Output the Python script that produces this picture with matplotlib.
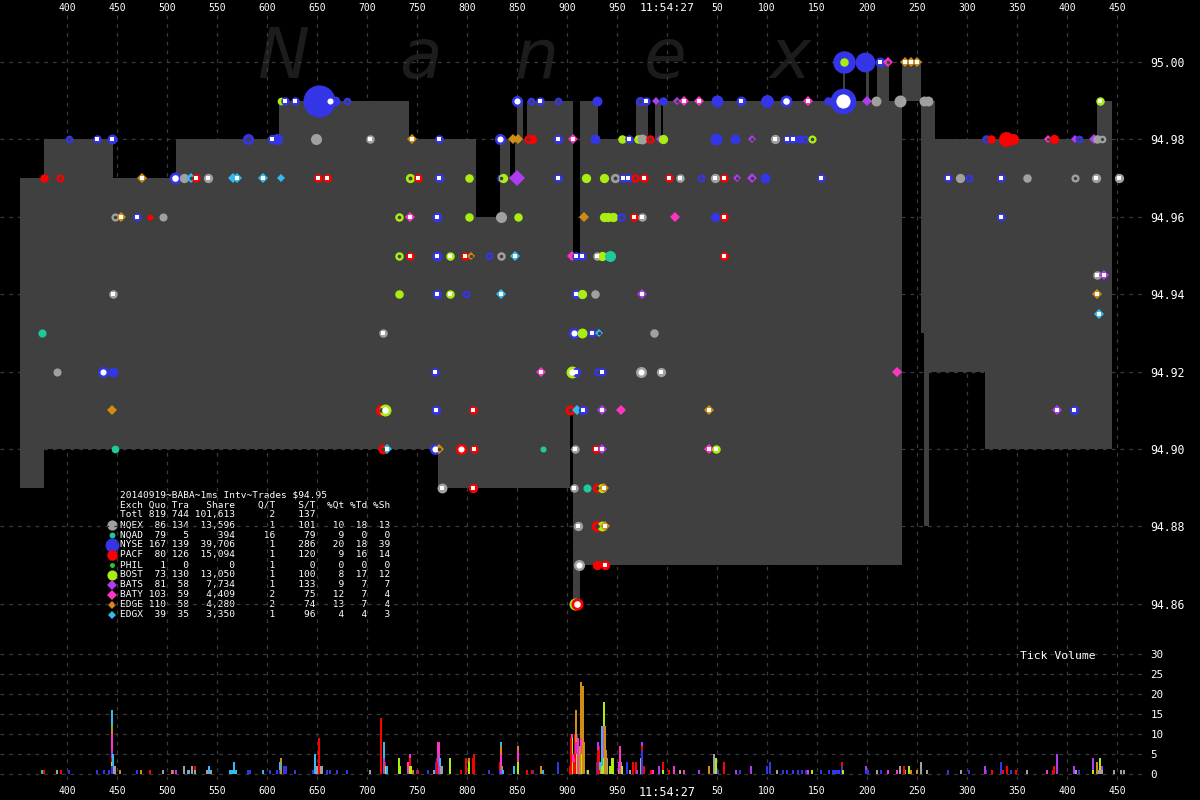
import numpy as np
import matplotlib
matplotlib.use("Agg")
import matplotlib.pyplot as plt

plt.rcParams['font.family'] = ['DejaVu Sans Mono']

# time axis: milliseconds after 11:54:26.000
tick_ms = list(range(400, 1451, 50))
price_ticks = [94.86, 94.88, 94.90, 94.92, 94.94, 94.96, 94.98, 95.00]
vol_ticks = [0, 5, 10, 15, 20, 25, 30]

# exchange codes, names and colours
ex_codes = ['Q', 'T', 'N', 'P', 'X', 'B', 'Z', 'Y', 'J', 'K']
ex_names = ['NQEX', 'NQAD', 'NYSE', 'PACF', 'PHIL', 'BOST', 'BATS', 'BATY', 'EDGE', 'EDGX']
ex_colors = {'Q': '#a0a0a0', 'T': '#1ec99a', 'N': '#3535e8', 'P': '#ff0000', 'X': '#22cc22',
             'B': '#aaee11', 'Z': '#b03cf0', 'Y': '#ff33c4', 'J': '#d08c14', 'K': '#33bbee'}
diamond_ex = set('ZYJK')

# summary table
quo = [86, 79, 167, 80, 1, 73, 81, 103, 110, 39]
tra = [134, 5, 139, 126, 0, 130, 58, 59, 58, 35]
share = [13596, 394, 39706, 15094, 0, 13050, 7734, 4409, 4280, 3350]
q_t = [1, 16, 1, 1, 1, 1, 1, 2, 2, 1]
s_t = [101, 79, 286, 120, 0, 100, 133, 75, 74, 96]
pct_qt = [10, 9, 20, 9, 0, 8, 9, 12, 13, 4]
pct_td = [18, 0, 18, 16, 0, 17, 7, 7, 7, 4]
pct_sh = [13, 0, 39, 14, 0, 12, 7, 4, 4, 3]
total_qt, total_st = 2, 137

# NBBO (step, starts at each ms value)
nbbo_ms = [353, 377, 446, 509, 612, 742, 771, 809, 833, 843, 848, 850, 856, 860, 903, 906, 913,
           931, 969, 981, 988, 994, 996, 1176, 1178, 1199, 1202, 1210, 1222, 1235, 1254, 1257,
           1262, 1268, 1318, 1430, 1445]
nbbo_bid = [94.89, 94.90, 94.90, 94.90, 94.90, 94.90, 94.89, 94.89, 94.89, 94.89, 94.89, 94.89,
            94.89, 94.89, 94.91, 94.86, 94.87, 94.87, 94.87, 94.87, 94.87, 94.87, 94.87, 94.87,
            94.87, 94.87, 94.87, 94.87, 94.87, 94.99, 94.93, 94.88, 94.92, 94.92, 94.90, 94.90, 94.90]
nbbo_ask = [94.97, 94.98, 94.97, 94.98, 94.99, 94.98, 94.98, 94.96, 94.98, 94.97, 94.98, 94.99,
            94.98, 94.99, 94.99, 94.95, 94.99, 94.98, 94.99, 94.98, 94.99, 94.98, 94.99, 95.00,
            94.99, 95.00, 94.99, 95.00, 94.99, 95.00, 94.99, 94.99, 94.99, 94.98, 94.98, 94.99, 94.99]

# trades: (ms, exchange, shares, kind)  kind: f filled, w white centre, o open centre
trades_9500 = [(1177, 'N', 2500, 'f'), (1177, 'B', 100, 'f'), (1198, 'N', 1800, 'f'), (1213, 'N', 200, 'w'),
               (1221, 'Y', 100, 'o'), (1238, 'J', 100, 'w'), (1244, 'J', 150, 'w'), (1250, 'J', 100, 'w')]
trades_9499 = [(614, 'B', 60, 'f'), (618, 'N', 100, 'w'), (628, 'N', 100, 'w'), (652, 'N', 6000, 'f'),
               (663, 'N', 300, 'w'), (668, 'N', 200, 'f'), (680, 'N', 60, 'o'), (850, 'N', 300, 'w'),
               (864, 'N', 60, 'o'), (873, 'N', 100, 'w'), (891, 'N', 60, 'o'), (930, 'N', 200, 'f'),
               (973, 'N', 150, 'o'), (979, 'N', 100, 'w'), (989, 'Z', 80, 'f'), (996, 'N', 100, 'f'),
               (1010, 'Z', 80, 'o'), (1017, 'Y', 100, 'w'), (1032, 'Y', 100, 'w'), (1050, 'N', 400, 'f'),
               (1074, 'N', 200, 'w'), (1100, 'N', 500, 'f'), (1119, 'N', 400, 'w'), (1141, 'Y', 100, 'w'),
               (1161, 'N', 100, 'f'), (1176, 'N', 3500, 'w'), (1200, 'Z', 100, 'f'), (1209, 'Q', 200, 'f'),
               (1233, 'Q', 400, 'f'), (1257, 'Q', 200, 'f'), (1261, 'Q', 200, 'f'), (1433, 'B', 100, 'w')]
trades_9498 = [(402, 'N', 60, 'o'), (430, 'N', 100, 'w'), (445, 'N', 200, 'w'), (581, 'N', 300, 'o'),
               (605, 'N', 150, 'w'), (610, 'N', 300, 'f'), (649, 'Q', 300, 'f'), (703, 'Q', 100, 'w'),
               (745, 'J', 100, 'w'), (772, 'N', 100, 'w'), (833, 'N', 300, 'w'), (846, 'J', 150, 'f'),
               (851, 'J', 200, 'f'), (861, 'P', 100, 'o'), (865, 'P', 150, 'f'), (891, 'N', 150, 'w'),
               (906, 'Y', 100, 'w'), (928, 'N', 200, 'f'), (955, 'B', 100, 'f'), (962, 'N', 100, 'w'),
               (971, 'B', 100, 'f'), (975, 'Q', 200, 'f'), (983, 'P', 100, 'o'), (993, 'Z', 80, 'f'),
               (996, 'B', 150, 'f'), (1049, 'N', 400, 'f'), (1068, 'N', 200, 'f'), (1085, 'Z', 80, 'o'),
               (1108, 'Q', 150, 'w'), (1120, 'N', 100, 'w'), (1126, 'N', 100, 'w'), (1133, 'N', 100, 'f'),
               (1138, 'N', 60, 'o'), (1145, 'B', 80, 'o'), (1319, 'N', 100, 'o'), (1324, 'P', 100, 'f'),
               (1339, 'P', 800, 'f'), (1346, 'P', 300, 'f'), (1381, 'Y', 60, 'o'), (1387, 'P', 150, 'f'),
               (1408, 'Z', 80, 'f'), (1412, 'N', 60, 'o'), (1427, 'Z', 100, 'f'), (1430, 'Q', 100, 'f'),
               (1435, 'Q', 60, 'o')]
trades_9497 = [(377, 'P', 100, 'f'), (393, 'P', 60, 'o'), (475, 'J', 100, 'w'), (508, 'N', 400, 'w'),
               (517, 'Q', 150, 'f'), (524, 'K', 100, 'o'), (529, 'P', 100, 'w'), (541, 'Q', 150, 'w'),
               (566, 'K', 150, 'f'), (570, 'K', 100, 'w'), (596, 'K', 100, 'w'), (614, 'K', 60, 'f'),
               (651, 'P', 100, 'w'), (660, 'P', 100, 'w'), (743, 'B', 150, 'o'), (751, 'P', 100, 'w'),
               (772, 'N', 150, 'w'), (802, 'B', 100, 'f'), (834, 'N', 100, 'o'), (836, 'B', 150, 'f'),
               (850, 'Z', 800, 'f'), (891, 'N', 100, 'w'), (919, 'B', 150, 'f'), (937, 'B', 150, 'f'),
               (948, 'Q', 150, 'o'), (956, 'N', 100, 'w'), (961, 'N', 100, 'w'), (968, 'P', 100, 'o'),
               (977, 'P', 100, 'w'), (1002, 'P', 100, 'w'), (1013, 'Q', 100, 'w'), (1034, 'N', 60, 'o'),
               (1048, 'Q', 150, 'w'), (1057, 'P', 100, 'w'), (1070, 'Z', 60, 'o'), (1085, 'Z', 100, 'o'),
               (1098, 'N', 200, 'f'), (1154, 'N', 100, 'w'), (1281, 'N', 100, 'w'), (1293, 'Q', 150, 'f'),
               (1302, 'N', 60, 'o'), (1334, 'N', 100, 'w'), (1360, 'Q', 100, 'f'), (1408, 'Q', 80, 'o'),
               (1429, 'Q', 150, 'w'), (1452, 'Q', 150, 'w')]
trades_9496 = [(448, 'Q', 80, 'o'), (454, 'J', 100, 'w'), (470, 'N', 100, 'w'), (483, 'P', 10, 'f'),
               (496, 'Q', 80, 'f'), (732, 'B', 100, 'o'), (743, 'Y', 100, 'w'), (770, 'N', 200, 'w'),
               (802, 'B', 100, 'f'), (834, 'Q', 300, 'f'), (851, 'B', 100, 'f'), (917, 'J', 150, 'f'),
               (937, 'B', 150, 'f'), (941, 'B', 150, 'f'), (946, 'B', 150, 'f'), (954, 'N', 100, 'o'),
               (967, 'P', 100, 'w'), (975, 'Q', 100, 'w'), (1008, 'Y', 100, 'f'), (1048, 'N', 150, 'f'),
               (1057, 'P', 100, 'w'), (1334, 'N', 100, 'w')]
trades_9495 = [(732, 'B', 100, 'o'), (743, 'P', 100, 'w'), (770, 'N', 200, 'w'), (783, 'B', 100, 'w'),
               (798, 'P', 100, 'w'), (804, 'J', 80, 'o'), (822, 'N', 60, 'o'), (834, 'Q', 100, 'o'),
               (848, 'K', 100, 'w'), (905, 'Y', 100, 'f'), (909, 'N', 100, 'w'), (915, 'N', 100, 'w'),
               (930, 'Q', 100, 'w'), (935, 'B', 150, 'f'), (943, 'T', 300, 'f'), (1057, 'P', 100, 'w')]
trades_94945 = [(1430, 'Q', 100, 'w'), (1437, 'Z', 100, 'w')]
trades_9494 = [(446, 'Q', 100, 'w'), (732, 'B', 100, 'f'), (770, 'N', 150, 'w'), (783, 'B', 100, 'w'),
               (799, 'N', 60, 'o'), (834, 'K', 100, 'w'), (909, 'N', 150, 'w'), (915, 'B', 150, 'f'),
               (928, 'Q', 100, 'f'), (975, 'Z', 100, 'w'), (1430, 'J', 100, 'w')]
trades_94935 = [(1432, 'K', 100, 'w')]
trades_9493 = [(375, 'T', 80, 'f'), (716, 'Q', 100, 'w'), (907, 'N', 300, 'w'), (915, 'B', 200, 'f'),
               (925, 'N', 100, 'w'), (932, 'K', 80, 'o'), (987, 'Q', 100, 'f')]
trades_9492 = [(390, 'Q', 80, 'f'), (436, 'N', 300, 'w'), (446, 'N', 200, 'f'), (768, 'N', 100, 'w'),
               (874, 'Y', 100, 'w'), (905, 'B', 400, 'w'), (909, 'N', 150, 'w'), (931, 'N', 100, 'o'),
               (935, 'N', 100, 'w'), (974, 'Q', 300, 'w'), (994, 'Q', 150, 'w'), (1230, 'Y', 150, 'f')]
trades_9491 = [(445, 'J', 150, 'f'), (714, 'P', 300, 'o'), (718, 'B', 400, 'w'), (769, 'N', 150, 'w'),
               (806, 'P', 100, 'w'), (903, 'P', 200, 'o'), (910, 'K', 100, 'f'), (916, 'N', 150, 'w'),
               (935, 'Z', 100, 'w'), (954, 'Y', 150, 'f'), (1042, 'J', 100, 'w'), (1390, 'Z', 100, 'w'),
               (1407, 'N', 150, 'w')]
trades_9490 = [(448, 'T', 60, 'f'), (716, 'P', 200, 'o'), (720, 'K', 150, 'w'), (768, 'N', 300, 'w'),
               (772, 'J', 100, 'o'), (794, 'P', 300, 'w'), (807, 'P', 100, 'w'), (876, 'T', 10, 'f'),
               (908, 'Q', 100, 'w'), (929, 'P', 100, 'w'), (935, 'Z', 100, 'w'), (1042, 'Y', 100, 'w'),
               (1049, 'B', 100, 'w')]
trades_9489 = [(775, 'Q', 200, 'w'), (806, 'P', 150, 'w'), (907, 'Q', 100, 'w'), (920, 'T', 80, 'f'),
               (930, 'P', 150, 'o'), (935, 'B', 150, 'f'), (937, 'J', 100, 'w')]
trades_9488 = [(911, 'Q', 150, 'w'), (930, 'P', 300, 'o'), (935, 'B', 200, 'f'), (938, 'J', 150, 'w')]
trades_9487 = [(912, 'Q', 300, 'w'), (930, 'P', 150, 'f'), (938, 'P', 150, 'w')]
trades_9486 = [(908, 'B', 400, 'f'), (910, 'P', 400, 'w')]

price_rows = [(95.00, trades_9500), (94.99, trades_9499), (94.98, trades_9498), (94.97, trades_9497),
              (94.96, trades_9496), (94.95, trades_9495), (94.945, trades_94945), (94.94, trades_9494),
              (94.935, trades_94935), (94.93, trades_9493), (94.92, trades_9492), (94.91, trades_9491),
              (94.90, trades_9490), (94.89, trades_9489), (94.88, trades_9488), (94.87, trades_9487),
              (94.86, trades_9486)]

# tick volume per exchange: (ms, trades)
vol_Q = [(390, 1), (446, 2), (448, 2), (496, 1), (517, 2), (522, 1), (525, 2), (528, 1), (540, 1), (544, 1),
         (650, 2), (653, 2), (655, 2), (703, 1), (767, 1), (773, 2), (775, 2), (906, 3), (933, 1), (940, 4),
         (952, 1), (954, 3), (963, 1), (974, 4), (1013, 1), (1047, 5), (1110, 1), (1210, 1), (1233, 2),
         (1238, 1), (1254, 3), (1260, 1), (1294, 1), (1360, 1), (1409, 1), (1431, 1), (1433, 1), (1435, 1),
         (1447, 1), (1454, 1), (1457, 1)]
vol_T = [(375, 1)]
vol_N = [(402, 1), (430, 1), (437, 1), (442, 1), (445, 2), (470, 1), (581, 1), (583, 1), (603, 1), (610, 1),
         (613, 1), (617, 2), (619, 2), (628, 1), (646, 1), (660, 1), (663, 1), (670, 1), (680, 1), (750, 1),
         (761, 1), (769, 3), (771, 1), (822, 1), (833, 1), (866, 1), (891, 3), (910, 10), (920, 1), (930, 3),
         (960, 3), (975, 6), (1051, 1), (1073, 1), (1100, 2), (1103, 3), (1116, 1), (1120, 1), (1126, 1),
         (1131, 1), (1135, 1), (1139, 1), (1154, 1), (1162, 1), (1166, 1), (1167, 1), (1169, 1), (1170, 1),
         (1172, 1), (1175, 2), (1199, 1), (1201, 1), (1214, 1), (1281, 1), (1302, 1), (1319, 1), (1334, 3),
         (1344, 1), (1412, 1)]
vol_P = [(377, 1), (394, 1), (445, 1), (483, 1), (528, 1), (652, 9), (714, 14), (718, 1), (743, 2), (751, 1),
         (770, 4), (771, 2), (794, 1), (799, 4), (806, 4), (807, 5), (833, 2), (860, 1), (865, 1), (903, 2),
         (904, 9), (907, 3), (908, 10), (931, 6), (932, 7), (966, 3), (969, 3), (975, 1), (977, 2), (984, 1),
         (996, 2), (1002, 1), (1057, 3), (1175, 1), (1237, 2), (1325, 1), (1336, 1), (1340, 2), (1349, 1),
         (1386, 1), (1387, 2)]
vol_B = [(445, 1), (718, 2), (732, 4), (733, 2), (743, 2), (744, 2), (783, 4), (802, 3), (835, 1), (851, 3),
         (905, 9), (909, 5), (912, 5), (914, 5), (915, 5), (921, 1), (935, 2), (936, 4), (937, 18), (943, 2),
         (945, 4), (946, 4), (955, 2), (996, 1), (1049, 4), (1145, 1), (1176, 1), (1242, 2), (1426, 1), (1433, 3)]
vol_Z = [(445, 2), (509, 1), (717, 4), (771, 2), (772, 4), (834, 2), (909, 3), (931, 2), (970, 1), (975, 1),
         (992, 2), (1032, 1), (1069, 1), (1084, 2), (1199, 1), (1318, 2), (1390, 5), (1407, 2), (1426, 3), (1435, 1)]
vol_Y = [(445, 4), (506, 1), (741, 3), (743, 1), (771, 3), (772, 4), (834, 3), (851, 3), (905, 1), (906, 2),
         (907, 1), (911, 9), (914, 4), (915, 12), (936, 8), (952, 2), (953, 7), (986, 1), (1007, 2), (1017, 1),
         (1141, 1), (1221, 1), (1230, 1), (1380, 1)]
vol_J = [(445, 2), (453, 1), (474, 1), (505, 1), (614, 4), (746, 1), (802, 1), (834, 2), (835, 1), (851, 1),
         (874, 2), (909, 8), (913, 7), (914, 14), (916, 22), (917, 8), (938, 12), (939, 6), (1042, 2),
         (1244, 1), (1250, 1), (1430, 3)]
vol_K = [(445, 4), (446, 3), (521, 1), (542, 2), (563, 1), (565, 1), (567, 3), (569, 1), (596, 1), (613, 2),
         (648, 5), (717, 4), (720, 2), (773, 2), (834, 1), (836, 1), (847, 2), (876, 1), (933, 2), (935, 10)]
vol_by_ex = [('Q', vol_Q), ('T', vol_T), ('N', vol_N), ('B', vol_B), ('P', vol_P),
             ('Z', vol_Z), ('Y', vol_Y), ('J', vol_J), ('K', vol_K)]


def marker_px(shares):
    return 5 + 3.5 * np.sqrt(shares / 100.0)


def draw_trade(ax, ms, price, ex, shares, kind):
    c = ex_colors[ex]
    d = marker_px(shares) * 0.72  # px -> pt
    m = 'D' if ex in diamond_ex else 'o'
    size = d * 0.78 if m == 'D' else d
    ax.plot(ms, price, marker=m, ms=size, color=c, mew=0, ls='none', zorder=5)
    if kind == 'w':
        im = 'o' if shares >= 300 else 's'
        ax.plot(ms, price, marker=im, ms=d * (0.55 if im == 'o' else 0.38), color='white',
                mew=0, ls='none', zorder=6)
    elif kind == 'o':
        ax.plot(ms, price, marker='o', ms=d * 0.42, color='#404040', mew=0, ls='none', zorder=6)


fig = plt.figure(figsize=(12, 8), dpi=100, facecolor='black')

# overlay in pixel coordinates for watermark and table
ov = fig.add_axes([0, 0, 1, 1], zorder=0)
ov.set_xlim(0, 1200)
ov.set_ylim(800, 0)
ov.axis('off')
for letter, x in zip('Nanex', [283, 420, 537, 665, 790]):
    ov.text(x, 78, letter, fontsize=50, style='italic', color='#1c1c1c', ha='center',
            va='baseline', family='DejaVu Sans')

ax = fig.add_axes([0, 0.2, 1145 / 1200, 627 / 800], zorder=1)
ax.patch.set_alpha(0)
ax.set_xlim(333, 1478)
ax.set_ylim(95.0 - 578 / 3870, 95.0 + 49 / 3870)

ax.fill_between(nbbo_ms, nbbo_bid, nbbo_ask, step='post', color='#404040', linewidth=0, zorder=1)

for price, rows in price_rows:
    for ms, ex, shares, kind in rows:
        draw_trade(ax, ms, price, ex, shares, kind)

grid_style = dict(color='#3a3a3a', linestyle=(0, (3, 4)), linewidth=0.9)
ax.set_xticks(tick_ms)
ax.set_yticks(price_ticks)
ax.grid(True, **grid_style)
ax.set_axisbelow(True)
ax.xaxis.tick_top()
ax.yaxis.tick_right()
time_labels = ['11:54:27' if t == 1000 else str(t % 1000) for t in tick_ms]
ax.set_xticklabels(time_labels)
ax.set_yticklabels([f'{p:.2f}' for p in price_ticks])
ax.tick_params(axis='x', length=0, colors='white', labelsize=7, pad=0.3)
ax.tick_params(axis='y', length=0, colors='white', labelsize=8.3, pad=4)
for lab in ax.get_xticklabels():
    if lab.get_text() == '11:54:27':
        lab.set_fontsize(8.2)
for s in ax.spines.values():
    s.set_visible(False)

# volume panel
axv = fig.add_axes([0, 0.025, 1145 / 1200, 138 / 800], zorder=1)
axv.patch.set_alpha(0)
axv.set_xlim(333, 1478)
axv.set_ylim(-1.5, 33)
bottoms = {}
for ex, rows in vol_by_ex:
    ts = [r[0] for r in rows]
    vs = [r[1] for r in rows]
    bots = [bottoms.get(t, 0) for t in ts]
    axv.bar(ts, vs, bottom=bots, width=1.3, color=ex_colors[ex], linewidth=0, zorder=3)
    for t, v in zip(ts, vs):
        bottoms[t] = bottoms.get(t, 0) + v
axv.set_xticks(tick_ms)
axv.set_xticklabels(time_labels)
axv.set_yticks(vol_ticks)
axv.yaxis.tick_right()
axv.grid(True, **grid_style)
axv.set_axisbelow(True)
axv.tick_params(axis='x', length=0, colors='white', labelsize=7, pad=4)
axv.tick_params(axis='y', length=0, colors='white', labelsize=7.8, pad=4)
for lab in axv.get_xticklabels():
    if lab.get_text() == '11:54:27':
        lab.set_fontsize(8.5)
for s in axv.spines.values():
    s.set_visible(False)
axv.text(0.924, 0.9, 'Tick Volume', transform=axv.transAxes, color='white', fontsize=8.2,
         ha='center', va='center')

# summary table
tfs = 6.8
ov.text(120, 495, '20140919~BABA~1ms Intv~Trades $94.95', color='white', fontsize=tfs,
        va='center', parse_math=False)
header = f"{'Exch':<4}{'Quo':>4}{'Tra':>4}{'Share':>8}{'Q/T':>7}{'S/T':>7}{'%Qt':>5}{'%Td':>4}{'%Sh':>4}"
ov.text(120, 505, header, color='white', fontsize=tfs, va='center')
total = f"{'Totl':<4}{sum(quo):>4}{sum(tra):>4}{sum(share):>8,}{total_qt:>7}{total_st:>7}"
ov.text(120, 515, total, color='white', fontsize=tfs, va='center')
for i, code in enumerate(ex_codes):
    y = 525 + 10 * i
    row = (f"{ex_names[i]:<4}{quo[i]:>4}{tra[i]:>4}{share[i]:>8,}{q_t[i]:>7}{s_t[i]:>7}"
           f"{pct_qt[i]:>5}{pct_td[i]:>4}{pct_sh[i]:>4}")
    ov.text(120, y, row, color='white', fontsize=tfs, va='center')
    d = (5 + 0.045 * np.sqrt(share[i])) * 0.72
    m = 'D' if code in diamond_ex else 'o'
    ov.plot(112, y, marker=m, ms=d * (0.8 if m == 'D' else 1.0), color=ex_colors[code], mew=0, ls='none')

fig.savefig('out.png', dpi=100, facecolor='black')
